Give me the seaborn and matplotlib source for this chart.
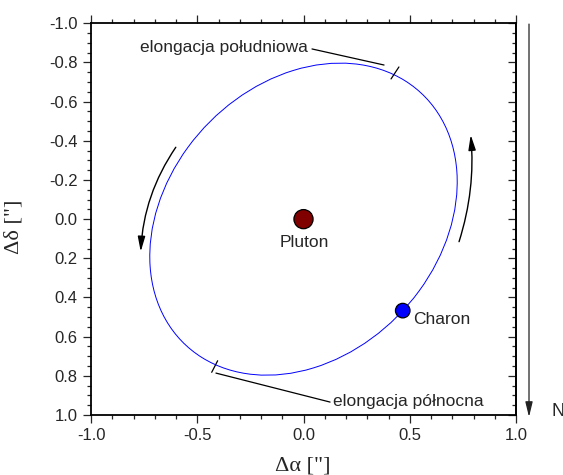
import matplotlib
matplotlib.use("Agg")
import matplotlib.pyplot as plt
from matplotlib.patches import Ellipse, FancyArrowPatch
from matplotlib.ticker import MultipleLocator, FormatStrFormatter
import pandas as pd
import seaborn as sns

# bodies, offsets in arcsec
bodies = ["Pluton", "Charon"]
body_ra = [0.0, 0.467]
body_dec = [0.0, 0.467]
body_colors = {"Pluton": "#800000", "Charon": "#0000ff"}
body_sizes = {"Pluton": 190, "Charon": 110}

# apparent orbit of Charon (ellipse fitted to the picture)
orbit_center = (0.0, 0.0)
orbit_width = 1.706
orbit_height = 1.312
orbit_angle = -56.0

# elongation marks (x pair, y pair) and their leader lines
south_mark_x = [0.412, 0.449]
south_mark_y = [-0.716, -0.777]
south_line_x = [0.040, 0.379]
south_line_y = [-0.869, -0.787]
north_mark_x = [-0.432, -0.404]
north_mark_y = [0.782, 0.723]
north_line_x = [-0.412, 0.125]
north_line_y = [0.786, 0.934]

# direction-of-motion arrows: start, end
arrow_left = [(-0.601, -0.367), (-0.766, 0.166)]
arrow_right = [(0.732, 0.115), (0.787, -0.430)]

df = pd.DataFrame({"name": bodies, "ra": body_ra, "dec": body_dec})

sns.set_style("ticks")
plt.rcParams["font.family"] = ["Liberation Sans", "DejaVu Sans"]
plt.rcParams["axes.unicode_minus"] = False

fig = plt.figure(figsize=(5.63, 4.75), dpi=100)
ax = fig.add_axes([91 / 563, 1 - 415 / 475, 425 / 563, 391.7 / 475])

ax.add_patch(Ellipse(orbit_center, orbit_width, orbit_height, angle=orbit_angle,
                     fill=False, edgecolor="#0000ff", lw=0.7, zorder=2))

sns.scatterplot(data=df, x="ra", y="dec", hue="name", palette=body_colors,
                size="name", sizes=body_sizes, edgecolor="black", linewidth=0.9,
                legend=False, ax=ax, zorder=3)

ax.text(body_ra[0] + 0.002, body_dec[0] + 0.144, "Pluton", ha="center", va="baseline", fontsize=12.5)
ax.text(body_ra[1] + 0.047, body_dec[1] + 0.07, "Charon", ha="left", va="baseline", fontsize=12.5)

for xs, ys in [(south_mark_x, south_mark_y), (south_line_x, south_line_y),
               (north_mark_x, north_mark_y), (north_line_x, north_line_y)]:
    ax.plot(xs, ys, color="black", lw=0.9)
ax.text(0.021, -0.853, "elongacja południowa", ha="right", va="baseline", fontsize=12.5)
ax.text(0.137, 0.953, "elongacja północna", ha="left", va="baseline", fontsize=12.5)

for (p0, p1), rad in [(arrow_left, 0.14), (arrow_right, 0.1)]:
    ax.add_patch(FancyArrowPatch(p0, p1, connectionstyle=f"arc3,rad={rad}",
                                 arrowstyle="-|>,head_length=0.9,head_width=0.22",
                                 mutation_scale=10, color="black", lw=1.0,
                                 shrinkA=0, shrinkB=0))

# north arrow outside the frame
ax.annotate("", xy=(1.0306, -0.005), xytext=(1.0306, 0.998), xycoords="axes fraction",
            arrowprops=dict(arrowstyle="-|>,head_length=0.9,head_width=0.22",
                            mutation_scale=10, color="#222222", lw=0.9,
                            shrinkA=0, shrinkB=0), annotation_clip=False)
ax.text(1.083, 0.01, "N", transform=ax.transAxes, ha="left", va="center", fontsize=13)

ax.set_xlim(-1.0, 1.0)
ax.set_ylim(1.0, -1.0)
ax.xaxis.set_major_locator(MultipleLocator(0.5))
ax.xaxis.set_minor_locator(MultipleLocator(0.1))
ax.yaxis.set_major_locator(MultipleLocator(0.2))
ax.yaxis.set_minor_locator(MultipleLocator(0.05))
ax.xaxis.set_major_formatter(FormatStrFormatter("%.1f"))
ax.yaxis.set_major_formatter(FormatStrFormatter("%.1f"))
ax.tick_params(axis="x", which="both", direction="out", top=True, bottom=True,
               labelsize=12, width=0.9, pad=3.5)
ax.tick_params(axis="y", which="both", direction="out", left=True, right=False,
               labelsize=12, width=0.9, pad=3.5)
ax.tick_params(which="major", length=6)
ax.tick_params(which="minor", length=3)
for s in ax.spines.values():
    s.set_linewidth(1.3)
    s.set_color("black")

sec = ax.secondary_yaxis("right")
sec.yaxis.set_major_locator(MultipleLocator(0.2))
sec.yaxis.set_minor_locator(MultipleLocator(0.05))
sec.tick_params(which="both", direction="in", labelright=False, width=0.9)
sec.tick_params(which="major", length=6)
sec.tick_params(which="minor", length=3)
sec.spines["right"].set_linewidth(1.3)

ax.set_xlabel('Δα ["]', family=["Liberation Serif", "DejaVu Serif"], fontsize=16)
ax.set_ylabel('Δδ ["]', family=["Liberation Serif", "DejaVu Serif"], fontsize=16)
ax.xaxis.set_label_coords(0.499, -0.107)
ax.yaxis.set_label_coords(-0.158, 0.48)

fig.savefig("out.png", dpi=100)
